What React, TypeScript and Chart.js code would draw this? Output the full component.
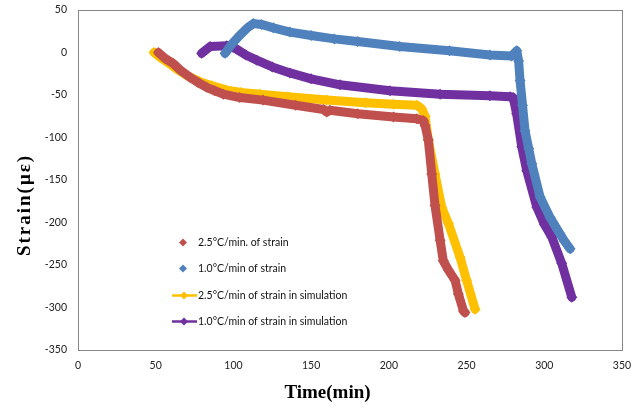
import React, { useEffect, useRef } from "react";
import { Chart, registerables } from "chart.js";

Chart.register(...registerables);

const xTicks = [0, 50, 100, 150, 200, 250, 300, 350];
const yTicks = [50, 0, -50, -100, -150, -200, -250, -300, -350];

const seriesLabels = [
  "2.5\u00B0C/min. of strain",
  "1.0\u00B0C/min of strain",
  "2.5\u00B0C/min of strain in simulation",
  "1.0\u00B0C/min of strain in simulation",
];
const seriesColors = ["#C0504D", "#4F81BD", "#FFC000", "#7030A0"];

const timeRed = [51.7, 56, 61.3, 66, 72, 77, 82.8, 88, 93.5, 104, 119, 140, 158, 160, 162, 180, 203, 218, 222.2, 223.3, 225.4, 227.6, 229.7, 233, 235, 238.3, 242.6, 244.7, 248, 249];
const strainRed = [0, -7, -13, -21, -29, -35, -41, -45, -49, -53, -56, -62, -67, -70, -68, -72, -76, -78, -80, -86, -103, -143, -180, -221, -245, -256, -268, -284, -304, -306];

const timeBlue = [94.6, 99, 104, 109, 112.8, 118, 125.7, 136.4, 150, 165, 180, 207, 239, 265, 279, 282.3, 283.5, 284.4, 286, 287.6, 290, 292, 297.3, 303.7, 310, 313, 316.6];
const strainBlue = [-1, 10, 20, 29, 34, 33, 29, 24, 20, 16, 13, 7, 2, -3, -4, 2, -10, -33, -62, -92, -113, -131, -170, -194, -213, -222, -231];

const timeYellow = [48.9, 53, 58, 64, 70, 78, 86, 95, 105, 117, 135, 160, 185, 203, 218, 221, 223.3, 225.4, 229.7, 234, 238.3, 245.8, 250, 255.5];
const strainYellow = [0, -6, -12, -20, -27, -34, -39, -44, -47, -49, -52, -56, -59, -61, -62, -66, -75, -103, -143, -182, -201, -241, -268, -302];

const timePurple = [79.6, 85, 95.7, 102, 108, 115, 125, 136.4, 150, 168.6, 200.7, 233, 265, 278, 280, 282.2, 285.5, 288.7, 295.2, 300, 304.8, 311.2, 317.7];
const strainPurple = [-1, 7, 8, 4, -3, -9, -17, -24, -31, -38, -45, -49, -51, -52, -53, -72, -111, -139, -182, -202, -217, -248, -288];

const pts = (t: number[], s: number[]) => t.map((x, i) => ({ x, y: s[i] }));

const TICK_FONT = { family: "Lato, 'Open Sans', sans-serif", size: 10.5 };

function diamond(ctx: CanvasRenderingContext2D, x: number, y: number, r: number) {
  ctx.beginPath();
  ctx.moveTo(x, y - r);
  ctx.lineTo(x + r, y);
  ctx.lineTo(x, y + r);
  ctx.lineTo(x - r, y);
  ctx.closePath();
  ctx.fill();
}

const framePlugin = {
  id: "frame",
  beforeDatasetsDraw(chart: any) {
    const { ctx, chartArea: a } = chart;
    ctx.save();
    ctx.strokeStyle = "#868686";
    ctx.lineWidth = 1;
    ctx.strokeRect(Math.round(a.left) + 0.5, Math.round(a.top) + 0.5, Math.round(a.right - a.left), Math.round(a.bottom - a.top));
    ctx.restore();
  },
};

const titlesPlugin = {
  id: "titles",
  afterDraw(chart: any) {
    const { ctx } = chart;
    ctx.save();
    ctx.fillStyle = "#000";
    ctx.font = "bold 19px 'Liberation Serif', 'Times New Roman', serif";
    ctx.textAlign = "center";
    ctx.textBaseline = "middle";
    ctx.fillText("Time(min)", 327.5, 393);
    ctx.translate(25, 206);
    ctx.rotate(-Math.PI / 2);
    (ctx as any).letterSpacing = "2px";
    ctx.fillText("Strain(\u03BC\u03B5)", 1, 0);
    ctx.restore();
  },
};

const legendPlugin = {
  id: "customLegend",
  afterDraw(chart: any) {
    const { ctx } = chart;
    const rows = [242.5, 268.5, 295.5, 321.5];
    ctx.save();
    ctx.font = "10.5px Lato, 'Open Sans', sans-serif";
    ctx.textBaseline = "middle";
    ctx.textAlign = "left";
    seriesLabels.forEach((label, i) => {
      const y = rows[i];
      const color = seriesColors[i];
      ctx.fillStyle = color;
      ctx.strokeStyle = color;
      if (i >= 2) {
        ctx.lineWidth = 2.5;
        ctx.beginPath();
        ctx.moveTo(172, y);
        ctx.lineTo(197, y);
        ctx.stroke();
        diamond(ctx, 184, y, 4);
      } else {
        diamond(ctx, 183, y, 4);
      }
      ctx.fillStyle = "#111";
      ctx.fillText(label, 198, y);
    });
    ctx.restore();
  },
};

export default function App() {
  const ref = useRef<HTMLCanvasElement>(null);
  useEffect(() => {
    const mk = (i: number, t: number[], s: number[]) => ({
      label: seriesLabels[i],
      data: pts(t, s),
      showLine: true,
      borderColor: seriesColors[i],
      backgroundColor: seriesColors[i],
      borderWidth: 9,
      borderCapStyle: "round" as const,
      borderJoinStyle: "round" as const,
      pointStyle: "rectRot" as const,
      pointRadius: 5.5,
      pointBorderWidth: 0,
      tension: 0,
    });
    const chart = new Chart(ref.current!, {
      type: "scatter",
      data: {
        datasets: [
          mk(0, timeRed, strainRed),
          mk(1, timeBlue, strainBlue),
          mk(2, timeYellow, strainYellow),
          mk(3, timePurple, strainPurple),
        ],
      },
      options: {
        responsive: false,
        maintainAspectRatio: false,
        animation: false,
        layout: { padding: { top: 10, right: 21, left: 0, bottom: 0 } },
        plugins: { legend: { display: false }, tooltip: { enabled: false }, title: { display: false } },
        scales: {
          x: {
            type: "linear",
            min: 0,
            max: 350,
            afterBuildTicks: (s: any) => {
              s.ticks = xTicks.map((v) => ({ value: v }));
            },
            ticks: { font: TICK_FONT, color: "#222", padding: 9, maxRotation: 0 },
            grid: { display: false, drawTicks: false },
            border: { display: false },
            afterFit: (s: any) => {
              s.height = 57;
              s.paddingLeft = 0;
              s.paddingRight = 0;
            },
          },
          y: {
            type: "linear",
            min: -350,
            max: 50,
            afterBuildTicks: (s: any) => {
              s.ticks = yTicks.map((v) => ({ value: v }));
            },
            ticks: { font: TICK_FONT, color: "#222", padding: 11 },
            grid: { display: false, drawTicks: false },
            border: { display: false },
            afterFit: (s: any) => {
              s.width = 78;
              s.paddingTop = 0;
              s.paddingBottom = 0;
            },
          },
        },
      },
      plugins: [framePlugin, legendPlugin, titlesPlugin],
    });
    return () => chart.destroy();
  }, []);
  return (
    <div style={{ position: "fixed", left: 0, top: 0, width: 643, height: 407, background: "#fff" }}>
      <canvas ref={ref} width={643} height={407} style={{ display: "block", width: 643, height: 407 }} />
    </div>
  );
}
